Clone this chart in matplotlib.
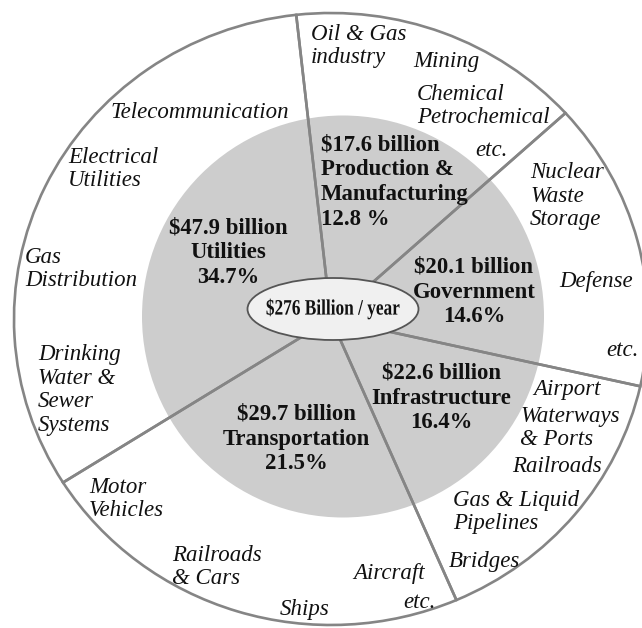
import matplotlib
matplotlib.use("Agg")
import matplotlib.pyplot as plt
import matplotlib.transforms as mtransforms
from matplotlib.patches import Circle, Ellipse, PathPatch
from matplotlib.textpath import TextPath
from matplotlib.font_manager import FontProperties

W, H = 642, 628

# sectors, counter-clockwise starting from the top divider
sectors = ["Utilities", "Transportation", "Infrastructure", "Government",
           "Production &\nManufacturing"]
amounts = [47.9, 29.7, 22.6, 20.1, 17.6]          # $ billion / year
percents = ["34.7%", "21.5%", "16.4%", "14.6%", "12.8 %"]
total = 276
# the original diagram does not draw its wedges to scale:
# angular spans (degrees)
wedge_deg = [116, 81, 54, 55, 54]

# examples written in each ring segment
items = [
    ("Oil & Gas\nindustry", 311, 46), ("Mining", 413, 61),
    ("Chemical\nPetrochemical", 417, 106), ("etc.", 475, 151),
    ("Telecommunication", 111, 112), ("Electrical\nUtilities", 68, 169),
    ("Gas\nDistribution", 25, 269), ("Drinking\nWater &\nSewer\nSystems", 38, 390),
    ("Nuclear\nWaste\nStorage", 530, 196), ("Defense", 559, 282), ("etc.", 606, 350),
    ("Airport", 533, 389), ("Waterways\n& Ports", 520, 428), ("Railroads", 512, 467),
    ("Gas & Liquid\nPipelines", 453, 512), ("Bridges", 449, 561),
    ("Motor\nVehicles", 89, 499), ("Railroads\n& Cars", 172, 567),
    ("Aircraft", 353, 573), ("Ships", 280, 610), ("etc.", 403, 603),
]

# where each sector's bold label block sits (pixels, top-left origin)
label_pos = [(228, 253, "center"), (296, 439, "center"), (441, 398, "center"),
             (474, 292, "center"), (321, 182, "left")]

line_c = "#858585"
ink = "#111111"
serif = ["Liberation Serif", "DejaVu Serif"]

fig = plt.figure(figsize=(W / 100, H / 100), dpi=100)
ax = fig.add_axes([0, 0, 1, 1])

cx, cy = 331, H - 319
wedges, _ = ax.pie(wedge_deg, startangle=96.3, counterclock=True, radius=306,
                   center=(cx, cy), colors=["none"] * len(wedge_deg),
                   wedgeprops=dict(edgecolor=line_c, linewidth=1.9))
# the outer ring is slightly wider than tall
stretch = mtransforms.Affine2D().translate(-cx, -cy).scale(1.036, 1).translate(cx, cy)
for w in wedges:
    w.set_transform(stretch + ax.transData)
    w.set_zorder(2)

ax.add_patch(Circle((343, H - 316.5), 201, facecolor="#cdcdcd", edgecolor="none", zorder=1))
ax.add_patch(Ellipse((333, H - 309), 171, 62, facecolor="#f0f0f0",
                     edgecolor="#555555", linewidth=1.3, zorder=3))

ax.set_xlim(0, W)
ax.set_ylim(0, H)
ax.set_aspect("auto")
ax.axis("off")

# text placed in picture pixels (origin top-left)
px = mtransforms.Affine2D().scale(1, -1).translate(0, H) + ax.transData

for name, amt, pct, (x, y, ha) in zip(sectors, amounts, percents, label_pos):
    ax.text(x, y, f"${amt} billion\n{name}\n{pct}", transform=px, ha=ha, va="center",
            multialignment=ha, fontsize=16.4, fontweight="bold", family=serif,
            color=ink, linespacing=1.24, zorder=4)

for txt, x, y in items:
    ax.text(x, y, txt, transform=px, ha="left", va="center", fontsize=16.5,
            style="italic", family=serif, color=ink, linespacing=1.18, zorder=4)

# condensed bold title in the centre ellipse
tp = TextPath((0, 0), f"${total} Billion / year", size=22,
              prop=FontProperties(family=serif, weight="bold"))
ext = tp.get_extents()
sx = 133 / ext.width
tt = (mtransforms.Affine2D().translate(-(ext.x0 + ext.width / 2), -(ext.y0 + ext.height / 2))
      .scale(sx, 1).translate(333, H - 309))
ax.add_patch(PathPatch(tp, transform=tt + ax.transData, facecolor=ink,
                       edgecolor="none", zorder=5))

plt.savefig("out.png", dpi=100)
